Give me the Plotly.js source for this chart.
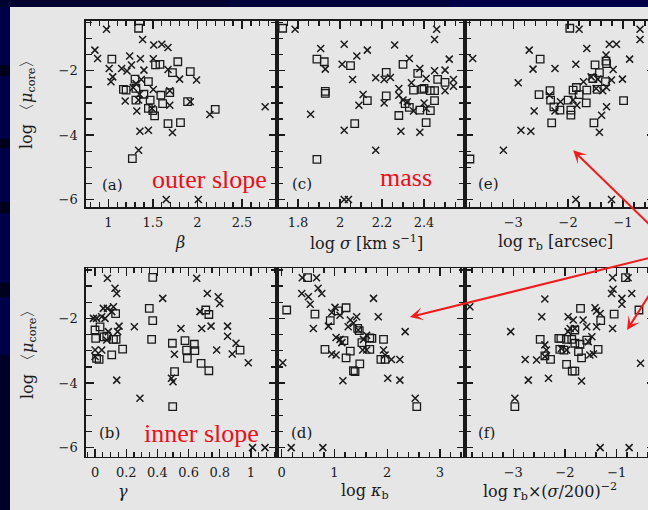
<!DOCTYPE html>
<html>
<head>
<meta charset="utf-8">
<script src="https://cdn.plot.ly/plotly-3.0.1.min.js"></script>
<style>
html,body{margin:0;padding:0;overflow:hidden;width:648px;height:510px;background:#000048;}
#chart{width:690px;height:510px;}
</style>
</head>
<body>
<div id="chart"></div>
<script>
// ---------- DATA ----------
// (a) outer slope beta vs log <mu_core>
const aCross = [[0.98,-0.71],[1.385,-1.03],[1.51,-1.2],[1.60,-1.18],[1.67,-1.28],[0.85,-1.36],[0.88,-1.62],[1.24,-1.54],[1.36,-1.63],[1.505,-1.63],[1.26,-1.82],[1.01,-1.93],[1.15,-1.93],[1.21,-2.01],[1.40,-1.98],[1.67,-1.96],[1.05,-2.19],[1.03,-2.34],[1.37,-2.27],[1.80,-2.26],[1.99,-2.29],[1.28,-2.52],[1.505,-2.58],[1.69,-2.62],[1.19,-2.94],[1.34,-2.91],[1.69,-3.07],[1.92,-2.96],[1.32,-3.25],[1.49,-3.17],[2.76,-3.12],[2.14,-3.36],[1.355,-3.88],[1.45,-3.85],[1.72,-3.92],[1.34,-4.47],[1.65,-6],[2.01,-6],[1.31,-2.40],[1.35,-2.73]];
const aSquare = [[1.34,-0.68],[1.04,-1.64],[1.53,-1.82],[1.58,-1.80],[1.78,-1.72],[1.92,-2.03],[1.72,-2.06],[1.30,-2.26],[1.45,-2.34],[1.17,-2.58],[1.20,-2.60],[1.31,-2.55],[1.40,-2.73],[1.59,-2.76],[1.69,-2.68],[1.31,-2.91],[1.47,-2.91],[1.61,-3.02],[1.45,-3.17],[1.50,-3.24],[1.52,-3.40],[1.89,-2.96],[2.20,-3.20],[1.67,-3.64],[1.81,-3.61],[1.27,-4.73]];
// (c) mass: log sigma
const cCross = [[1.786,-0.71],[1.908,-1.31],[2.02,-1.18],[2.08,-1.54],[2.13,-1.36],[2.26,-1.20],[2.46,-0.71],[2.45,-1.03],[2.33,-1.62],[1.93,-1.95],[2.01,-1.80],[2.06,-2.27],[2.17,-2.22],[2.21,-2.27],[2.24,-2.21],[2.38,-1.93],[2.41,-2.24],[2.45,-2.0],[2.50,-1.98],[2.52,-1.64],[2.54,-2.27],[2.54,-2.48],[2.50,-2.62],[2.34,-2.37],[2.28,-2.55],[2.28,-2.76],[2.11,-2.74],[2.09,-3.07],[2.21,-3.0],[2.30,-2.91],[2.32,-2.96],[2.35,-3.25],[2.40,-3.0],[2.41,-3.17],[1.86,-3.35],[2.02,-3.85],[2.29,-3.88],[2.38,-3.91],[2.17,-4.47],[2.02,-6],[2.04,-6]];
const cSquare = [[1.727,-0.68],[1.89,-1.64],[1.925,-1.72],[2.05,-1.84],[2.22,-2.05],[2.30,-1.80],[2.37,-2.08],[2.465,-2.27],[2.50,-2.36],[1.93,-2.64],[1.93,-2.70],[2.13,-2.93],[2.22,-2.78],[2.35,-2.60],[2.39,-2.58],[2.40,-2.55],[2.43,-2.62],[2.45,-2.62],[2.31,-3.02],[2.33,-3.14],[2.38,-3.22],[2.43,-3.24],[2.45,-2.93],[2.28,-3.39],[2.07,-3.64],[2.41,-3.61],[1.89,-4.75]];
// (e) log r_b [arcsec]
const eCross = [[-1.80,-0.71],[-0.69,-0.71],[-0.69,-1.03],[-3.74,-1.62],[-2.71,-1.36],[-1.66,-1.31],[-1.25,-1.18],[-1.12,-1.18],[-0.88,-1.64],[-2.64,-1.95],[-2.24,-1.93],[-1.86,-1.80],[-1.31,-1.51],[-2.91,-2.37],[-1.18,-1.96],[-1.21,-2.29],[-1.01,-2.26],[-1.58,-2.19],[-1.72,-2.34],[-2.34,-2.76],[-2.62,-3.25],[-2.24,-3.25],[-2.14,-2.96],[-1.91,-2.91],[-1.84,-3.07],[-1.49,-2.55],[-1.37,-2.62],[-1.30,-2.52],[-1.46,-2.26],[-1.30,-3.12],[-1.39,-3.38],[-2.86,-3.85],[-2.68,-3.88],[-1.43,-3.91],[-3.18,-4.47],[-1.86,-6],[-1.21,-6]];
const eSquare = [[-1.97,-0.68],[-2.51,-1.64],[-2.53,-2.74],[-2.33,-2.62],[-2.32,-2.91],[-2.26,-3.12],[-2.15,-3.22],[-2.0,-2.91],[-1.95,-3.38],[-1.95,-3.22],[-1.91,-2.60],[-1.85,-2.52],[-1.80,-2.74],[-1.67,-3.0],[-1.66,-2.60],[-1.51,-1.82],[-1.43,-2.06],[-1.47,-2.58],[-1.31,-1.70],[-1.32,-2.34],[-1.30,-1.78],[-2.30,-3.62],[-1.53,-3.62],[-0.99,-2.93],[-3.79,-4.74],[-1.55,-2.24]];
// (b) inner slope gamma
const bCross = [[0.079,-0.76],[0.128,-1.07],[0.139,-1.23],[0.434,-1.38],[0.652,-0.76],[0.72,-1.23],[0.79,-1.33],[0.80,-1.54],[0.053,-1.69],[0.079,-1.69],[0.118,-1.64],[0.107,-1.79],[-0.01,-2],[0.01,-2],[0.043,-1.95],[0.064,-2],[0.673,-1.79],[0.684,-2.31],[0.744,-2.24],[0.551,-2.31],[0.252,-2.26],[0.154,-2.24],[0.145,-2.41],[0.085,-2.41],[0.075,-2.67],[0.85,-2.24],[0.85,-2.55],[0.904,-2.77],[0.88,-3.10],[0.78,-2.98],[0.983,-3.37],[0.0,-2.98],[0.0,-3.18],[0.043,-2.98],[0.509,-3.11],[0.139,-3.91],[0.49,-3.85],[0.50,-3.96],[0.288,-4.47],[1.01,-6],[1.09,-6]];
const bSquare = [[0.37,-0.73],[0.348,-1.69],[0.37,-2.07],[0.363,-2.65],[0.132,-1.85],[0.0,-2.36],[0.004,-2.62],[0.032,-2.26],[0.058,-2.57],[0.075,-2.55],[0.118,-2.65],[0.135,-2.65],[0.177,-2.95],[0.107,-3.13],[0.01,-3.24],[0.026,-3.27],[0.496,-2.77],[0.577,-2.69],[0.637,-2.80],[0.587,-2.98],[0.64,-3.0],[0.592,-3.24],[0.68,-3.39],[0.73,-3.62],[0.51,-3.65],[0.71,-1.74],[0.73,-1.88],[0.93,-2.98],[0.498,-4.73]];
// (d) log kappa_b
const dCross = [[0.39,-0.74],[0.66,-0.74],[0.69,-1.07],[0.76,-1.23],[0.38,-1.23],[0.505,-1.33],[0.54,-1.56],[1.74,-1.38],[1.83,-1.95],[2.34,-2.41],[0.60,-2.31],[0.885,-2.24],[0.95,-1.82],[1.01,-1.66],[1.105,-1.9],[1.30,-2.05],[1.42,-1.95],[1.36,-2.15],[1.26,-2.26],[1.45,-2.36],[1.03,-2.59],[1.14,-2.75],[1.105,-2.65],[0.95,-3.10],[1.03,-3.13],[1.55,-2.65],[1.61,-2.52],[1.535,-2.98],[1.61,-2.98],[1.93,-2.98],[1.96,-3.13],[2.08,-3.27],[2.24,-3.27],[0.02,-3.37],[1.16,-3.93],[2.01,-3.85],[2.24,-3.91],[2.53,-4.47],[0.18,-6],[0.78,-6]];
const dSquare = [[0.49,-0.74],[0.095,-1.74],[0.63,-1.87],[0.92,-2.07],[1.07,-1.77],[1.22,-1.67],[1.44,-2.31],[1.47,-2.38],[1.18,-2.69],[1.52,-2.75],[1.71,-2.62],[1.67,-2.60],[1.93,-2.65],[0.82,-2.96],[1.30,-3.01],[1.67,-2.96],[1.22,-3.22],[1.48,-3.41],[1.36,-3.62],[1.39,-3.65],[1.88,-3.27],[1.96,-3.27],[2.56,-4.73]];
// (f) log r_b x (sigma/200)^-2
const fCross = [[-1.08,-0.74],[-0.78,-0.74],[-1.07,-1.10],[-1.10,-1.23],[-0.71,-1.23],[-0.90,-1.38],[-0.90,-1.56],[-2.39,-1.40],[-3.84,-1.64],[-2.45,-1.95],[-3.05,-2.41],[-1.94,-1.95],[-1.84,-2.05],[-1.90,-2.31],[-1.81,-2.31],[-1.94,-2.41],[-1.65,-2.05],[-1.58,-2.26],[-1.42,-1.67],[-1.39,-1.77],[-1.32,-1.85],[-1.39,-2.26],[-1.08,-2.31],[-1.48,-2.57],[-1.55,-2.72],[-2.39,-2.82],[-2.36,-2.98],[-2.77,-3.27],[-2.55,-3.29],[-2.39,-3.18],[-2.07,-2.93],[-1.97,-2.98],[-1.52,-3.13],[-1.45,-3.10],[-0.54,-3.39],[-2.71,-3.91],[-2.32,-3.85],[-1.68,-3.94],[-2.97,-4.47],[-1.32,-6],[-0.76,-6]];
const fSquare = [[-0.83,-0.74],[-1.70,-1.69],[-1.05,-1.87],[-1.31,-2.07],[-0.57,-1.74],[-1.81,-2.36],[-2.12,-2.62],[-2.08,-2.62],[-1.97,-2.65],[-1.87,-2.65],[-2.48,-2.65],[-1.81,-2.77],[-1.71,-2.80],[-1.58,-2.67],[-2.10,-2.96],[-2.02,-2.98],[-1.74,-3.03],[-1.36,-2.96],[-2.39,-3.16],[-2.28,-3.27],[-1.68,-3.22],[-1.97,-3.42],[-1.86,-3.63],[-1.81,-3.63],[-2.97,-4.73]];

const panelLabels = ['(a)','(c)','(e)','(b)','(d)','(f)'];
const xTitles = ['<i>β</i>','log <i>σ</i> [km s<sup>−1</sup>]','log r<sub>b</sub> [arcsec]','<i>γ</i>','log <i>κ</i><sub>b</sub>','log r<sub>b</sub>×(<i>σ</i>/200)<sup>−2</sup>'];
const yTitle = 'log 〈<i>μ</i><sub>core</sub>〉';
const notes = ['outer slope','mass','inner slope'];
const yTickVals = [-6,-4,-2];

// ---------- LAYOUT HELPERS ----------
const W = 690, H = 510;
const px = p => p / W;
const py = p => 1 - p / H;
const ink = '#1a1a1a';
const serif = 'DejaVu Serif';

const colsPx = [[86,277],[277,465],[465,655]];
const rowsPx = [[20.5,207],[268.3,456.7]];
const xRanges = [[0.75,2.893],[1.70,2.595],[-3.88,-0.417],[-0.058,1.167],[-0.089,3.474],[-3.934,-0.26]];
const xDticks = [0.5,0.2,1,0.2,1,1];
const xMinor = [0.1,0.05,0.2,0.05,0.2,0.2];
const yRanges = [[-6.23,-0.44],[-6.28,-0.45]];

const seriesC = [aCross,cCross,eCross,bCross,dCross,fCross];
const seriesS = [aSquare,cSquare,eSquare,bSquare,dSquare,fSquare];

const traces = [];
const layout = {
  width: W, height: H,
  margin: {l:0,r:0,t:0,b:0},
  paper_bgcolor: '#000048',
  plot_bgcolor: '#e6e6e6',
  showlegend: false,
  font: {family: serif, color: ink},
  shapes: [], annotations: []
};

for (let i = 0; i < 6; i++) {
  const col = i % 3, row = Math.floor(i / 3);
  const n = i + 1;
  const xa = 'x' + (n === 1 ? '' : n), ya = 'y' + (n === 1 ? '' : n);
  const xk = 'xaxis' + (n === 1 ? '' : n), yk = 'yaxis' + (n === 1 ? '' : n);
  const common = {
    showline: true, linecolor: ink, linewidth: 1.7, mirror: 'allticks',
    ticks: 'inside', ticklen: 8, tickwidth: 1.4, tickcolor: ink,
    showgrid: false, zeroline: false,
    tickfont: {family: serif, size: 13, color: ink}
  };
  layout[xk] = Object.assign({}, common, {
    domain: [px(colsPx[col][0]), px(colsPx[col][1])],
    range: xRanges[i], anchor: ya, tick0: 0, dtick: xDticks[i],
    ticklabelstandoff: 3,
    minor: {ticks: 'inside', ticklen: 5, tickwidth: 1.3, tickcolor: ink, dtick: xMinor[i], tick0: 0, showgrid: false}
  });
  layout[yk] = Object.assign({}, common, {
    domain: [py(rowsPx[row][1]), py(rowsPx[row][0])],
    range: yRanges[row], anchor: xa,
    tickmode: 'array', tickvals: yTickVals,
    showticklabels: col === 0, ticklabelstandoff: 4,
    minor: {ticks: 'inside', ticklen: 6, tickwidth: 1.3, tickcolor: ink, dtick: 0.5, tick0: 0, showgrid: false}
  });
  traces.push({
    type: 'scatter', mode: 'markers', xaxis: xa, yaxis: ya,
    x: seriesC[i].map(p => p[0]), y: seriesC[i].map(p => p[1]),
    marker: {symbol: 'x-thin-open', size: 7, color: ink, line: {color: ink, width: 1.5}},
    hoverinfo: 'skip'
  });
  traces.push({
    type: 'scatter', mode: 'markers', xaxis: xa, yaxis: ya,
    x: seriesS[i].map(p => p[0]), y: seriesS[i].map(p => p[1]),
    marker: {symbol: 'square-open', size: 7.5, color: ink, line: {color: ink, width: 1.3}},
    hoverinfo: 'skip'
  });
}

// background panel (light) over navy frame, plus frame stripes
layout.shapes.push({type:'rect', xref:'paper', yref:'paper', x0:px(10), x1:1, y0:0, y1:py(7), fillcolor:'#e6e6e6', line:{width:0}, layer:'below'});
layout.shapes.push({type:'rect', xref:'paper', yref:'paper', x0:0, x1:px(230), y0:py(7), y1:1, fillcolor:'#020230', line:{width:0}, layer:'below'});
layout.shapes.push({type:'rect', xref:'paper', yref:'paper', x0:px(230), x1:px(450), y0:py(7), y1:1, fillcolor:'#03033c', line:{width:0}, layer:'below'});
[[65,76],[139,148],[202,213],[283,297]].forEach(b => {
  layout.shapes.push({type:'rect', xref:'paper', yref:'paper', x0:0, x1:px(10), y0:py(b[1]), y1:py(b[0]), fillcolor:'#00001c', line:{width:0}, layer:'below'});
});
layout.shapes.push({type:'rect', xref:'paper', yref:'paper', x0:0, x1:px(10), y0:0, y1:py(355), fillcolor:'#000028', line:{width:0}, layer:'below'});

// panel letters
const labPos = [[113,185],[302,184],[488,184],[110,433],[301,433],[486,433]];
panelLabels.forEach((t, i) => layout.annotations.push({
  text: t, xref:'paper', yref:'paper', x: px(labPos[i][0]), y: py(labPos[i][1]),
  xanchor:'center', yanchor:'middle', showarrow:false, font:{family:serif, size:15, color:ink}
}));
// x titles
const xtPos = [[180,242],[366,242],[555,242],[123,491],[365,491],[550,491]];
xTitles.forEach((t, i) => layout.annotations.push({
  text: t, xref:'paper', yref:'paper', x: px(xtPos[i][0]), y: py(xtPos[i][1]),
  xanchor:'center', yanchor:'middle', showarrow:false, font:{family:serif, size:16, color:ink}
}));
// y titles
[100, 350].forEach(yc => layout.annotations.push({
  text: yTitle, xref:'paper', yref:'paper', x: px(28), y: py(yc), textangle: -90,
  xanchor:'center', yanchor:'middle', showarrow:false, font:{family:serif, size:16, color:ink}
}));
// red notes
const notePos = [[209,179],[406,177],[201,433]];
notes.forEach((t, i) => layout.annotations.push({
  text: t, xref:'paper', yref:'paper', x: px(notePos[i][0]), y: py(notePos[i][1]),
  xanchor:'center', yanchor:'middle', showarrow:false,
  font:{family:'Liberation Serif', size:26, color:'#e8101a'}
}));
// red arrows from a common point off to the right
const arrowHeads = [
  {xref:'x3', yref:'y3', x:-1.91, y:-4.47, ax:104, ay:101},
  {xref:'x5', yref:'y5', x:2.43, y:-1.96, ax:267, ay:-66},
  {xref:'x6', yref:'y6', x:-0.80, y:-2.36, ax:50, ay:-79}
];
arrowHeads.forEach(a => layout.annotations.push(Object.assign({
  text:' ', showarrow:true, arrowhead:3, arrowsize:1.1, arrowwidth:2,
  arrowcolor:'#ee1c1c', axref:'pixel', ayref:'pixel', standoff:0
}, a)));

Plotly.newPlot('chart', traces, layout, {staticPlot:true, displayModeBar:false});
</script>
</body>
</html>
